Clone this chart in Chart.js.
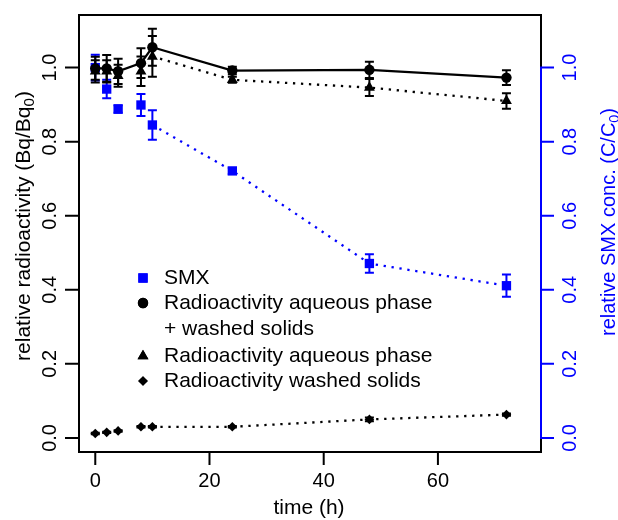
<!DOCTYPE html>
<html>
<head>
<meta charset="utf-8">
<script src="https://cdn.jsdelivr.net/npm/chart.js@4/dist/chart.umd.min.js"></script>
<style>
  html,body{margin:0;padding:0;background:#fff;}
  #wrap{position:relative;width:618px;height:520px;}
</style>
</head>
<body>
<div id="wrap"><canvas id="chart" width="618" height="520"></canvas></div>
<script>
// sampling times (h)
const times = [0, 2, 4, 8, 10, 24, 48, 72];

// SMX relative concentration (C/C0), right axis
const smx    = [1.00, 0.942, 0.888, 0.899, 0.845, 0.721, 0.471, 0.411];
const smxErr = [0.035, 0.025, 0.010, 0.030, 0.040, 0.008, 0.025, 0.030];

// radioactivity aqueous phase + washed solids
const total    = [0.998, 0.998, 0.990, 1.012, 1.055, 0.992, 0.994, 0.973];
const totalErr = [0.031, 0.036, 0.034, 0.040, 0.050, 0.010, 0.022, 0.020];

// radioactivity aqueous phase
const aqueous    = [0.990, 0.990, 0.978, 0.990, 1.030, 0.967, 0.946, 0.910];
const aqueousErr = [0.030, 0.030, 0.030, 0.040, 0.055, 0.008, 0.023, 0.021];

// radioactivity washed solids
const solids    = [0.012, 0.015, 0.019, 0.030, 0.030, 0.030, 0.050, 0.063];
const solidsErr = [0.002, 0.002, 0.002, 0.002, 0.002, 0.002, 0.005, 0.003];

const xTicks = [0, 20, 40, 60];
const yTicks = [0.0, 0.2, 0.4, 0.6, 0.8, 1.0];
const yTickLabels = ['0.0', '0.2', '0.4', '0.6', '0.8', '1.0'];

const legendLabels = [
  ['SMX'],
  ['Radioactivity aqueous phase', '+ washed solids'],
  ['Radioactivity aqueous phase'],
  ['Radioactivity washed solids']
];

const BLUE = '#0000ff';
const FONT = '"Liberation Sans", Arial, Helvetica, sans-serif';

function pts(ys){ return times.map((t,i)=>({x:t, y:ys[i]})); }

// dotted lines only start at t = 10
const dotted = color => ({
  borderColor: ctx => (ctx.p0 && ctx.p0.parsed.x < 10) ? 'rgba(0,0,0,0)' : color
});

// draw text pieces (with optional subscripts) centred at cx,cy, rotated
function richText(ctx, parts, cx, cy, rot, color, size){
  ctx.save();
  ctx.translate(cx, cy);
  ctx.rotate(rot);
  ctx.fillStyle = color;
  ctx.textBaseline = 'middle';
  ctx.textAlign = 'left';
  let w = 0;
  parts.forEach(p=>{
    ctx.font = (p.sub ? size*0.72 : size) + 'px ' + FONT;
    p.w = ctx.measureText(p.t).width; w += p.w;
  });
  let x = -w/2;
  parts.forEach(p=>{
    ctx.font = (p.sub ? size*0.72 : size) + 'px ' + FONT;
    ctx.fillText(p.t, x, p.sub ? size*0.28 : 0);
    x += p.w;
  });
  ctx.restore();
}

const axesPlugin = {
  id: 'rAxes',
  afterDatasetDraw(chart, args){
    // error bars per dataset
    const ds = chart.data.datasets[args.index];
    if(!ds.err) return;
    const ctx = chart.ctx;
    const xs = chart.scales.x, ys = chart.scales[ds.yAxisID];
    ctx.save();
    ctx.strokeStyle = ds.pointBackgroundColor;
    ctx.lineWidth = 2;
    ds.data.forEach((p,i)=>{
      const px = xs.getPixelForValue(p.x);
      const top = ys.getPixelForValue(p.y + ds.err[i]);
      const bot = ys.getPixelForValue(p.y - ds.err[i]);
      ctx.beginPath();
      ctx.moveTo(px, top); ctx.lineTo(px, bot);
      ctx.moveTo(px-4.5, top); ctx.lineTo(px+4.5, top);
      ctx.moveTo(px-4.5, bot); ctx.lineTo(px+4.5, bot);
      ctx.stroke();
    });
    ctx.restore();
  },
  afterDraw(chart){
    const ctx = chart.ctx;
    const a = chart.chartArea;
    const xs = chart.scales.x, yl = chart.scales.y, yr = chart.scales.y2;
    ctx.save();
    ctx.lineWidth = 2;
    ctx.lineCap = 'butt';
    // box
    ctx.strokeStyle = '#000';
    ctx.strokeRect(a.left, a.top, a.right - a.left, a.bottom - a.top);

    // bottom axis
    ctx.beginPath();
    xTicks.forEach(t=>{
      const px = xs.getPixelForValue(t);
      ctx.moveTo(px, a.bottom); ctx.lineTo(px, a.bottom + 13);
    });
    ctx.stroke();
    ctx.fillStyle = '#000';
    ctx.font = '20px ' + FONT;
    ctx.textAlign = 'center'; ctx.textBaseline = 'middle';
    xTicks.forEach(t=> ctx.fillText(String(t), xs.getPixelForValue(t), 481));

    // left axis
    ctx.beginPath();
    yTicks.forEach(v=>{
      const py = yl.getPixelForValue(v);
      ctx.moveTo(a.left, py); ctx.lineTo(a.left - 14, py);
    });
    ctx.stroke();
    yTicks.forEach((v,i)=>{
      richText(ctx, [{t:yTickLabels[i]}], 50, yl.getPixelForValue(v), -Math.PI/2, '#000', 20);
    });

    // right axis (blue)
    ctx.strokeStyle = BLUE;
    ctx.beginPath();
    ctx.moveTo(a.right, yr.getPixelForValue(0));
    ctx.lineTo(a.right, yr.getPixelForValue(1));
    yTicks.forEach(v=>{
      const py = yr.getPixelForValue(v);
      ctx.moveTo(a.right - 1, py); ctx.lineTo(a.right + 13, py);
    });
    ctx.stroke();
    yTicks.forEach((v,i)=>{
      richText(ctx, [{t:yTickLabels[i]}], 570, yr.getPixelForValue(v), -Math.PI/2, BLUE, 20);
    });

    // titles
    richText(ctx, [{t:'time (h)'}], 309, 508, 0, '#000', 21);
    richText(ctx, [{t:'relative radioactivity (Bq/Bq'},{t:'0',sub:true},{t:')'}], 24, 226, -Math.PI/2, '#000', 21);
    richText(ctx, [{t:'relative SMX conc. (C/C'},{t:'0',sub:true},{t:')'}], 609, 222, -Math.PI/2, BLUE, 20);

    // legend
    const rows = [278, 303, 356, 381];
    const order = [3, 0, 1, 2]; // dataset index per legend entry
    ctx.font = '21px ' + FONT;
    ctx.textAlign = 'left'; ctx.textBaseline = 'middle';
    legendLabels.forEach((lines, k)=>{
      const ds = chart.data.datasets[order[k]];
      ctx.fillStyle = ds.pointBackgroundColor;
      Chart.helpers.drawPoint(ctx, {
        pointStyle: ds.pointStyle, radius: ds.pointRadius, borderWidth: 0
      }, 143, rows[k]);
      ctx.fill();
      ctx.fillStyle = '#000';
      lines.forEach((s, j)=> ctx.fillText(s, 164, rows[k] + j*26));
    });
    ctx.restore();
  }
};

new Chart(document.getElementById('chart'), {
  type: 'line',
  data: {
    datasets: [
      { label:'Radioactivity aqueous phase + washed solids', data: pts(total), err: totalErr,
        yAxisID:'y', order:1, borderColor:'#000', borderWidth:2.3, pointStyle:'circle', pointRadius:5.2,
        pointBackgroundColor:'#000', pointBorderWidth:0 },
      { label:'Radioactivity aqueous phase', data: pts(aqueous), err: aqueousErr,
        yAxisID:'y', order:2, borderColor:'#000', borderWidth:2.3, borderDash:[2.3,5.7], segment: dotted('#000'),
        pointStyle:'triangle', pointRadius:6.3, pointBackgroundColor:'#000', pointBorderWidth:0 },
      { label:'Radioactivity washed solids', data: pts(solids), err: solidsErr,
        yAxisID:'y', order:3, borderColor:'#000', borderWidth:2.3, borderDash:[2.3,5.7], segment: dotted('#000'),
        pointStyle:'rectRot', pointRadius:4.8, pointBackgroundColor:'#000', pointBorderWidth:0 },
      { label:'SMX', data: pts(smx), err: smxErr,
        yAxisID:'y2', order:4, borderColor:BLUE, borderWidth:2.3, borderDash:[2.3,5.7], segment: dotted(BLUE),
        pointStyle:'rect', pointRadius:6.6, pointBackgroundColor:BLUE, pointBorderWidth:0 }
    ]
  },
  options: {
    responsive:false, animation:false, events:[],
    layout:{ padding:{ left:79, right:77, top:15, bottom:68 } },
    plugins:{ legend:{display:false}, tooltip:{enabled:false} },
    elements:{ line:{ tension:0, fill:false, borderCapStyle:'butt' } },
    scales:{
      x:{ type:'linear', display:false, min:-2.85, max:78.05 },
      y:{ type:'linear', display:false, min:-0.038, max:1.142 },
      y2:{ type:'linear', display:false, position:'right', min:-0.038, max:1.142 }
    }
  },
  plugins:[axesPlugin]
});
</script>
</body>
</html>
